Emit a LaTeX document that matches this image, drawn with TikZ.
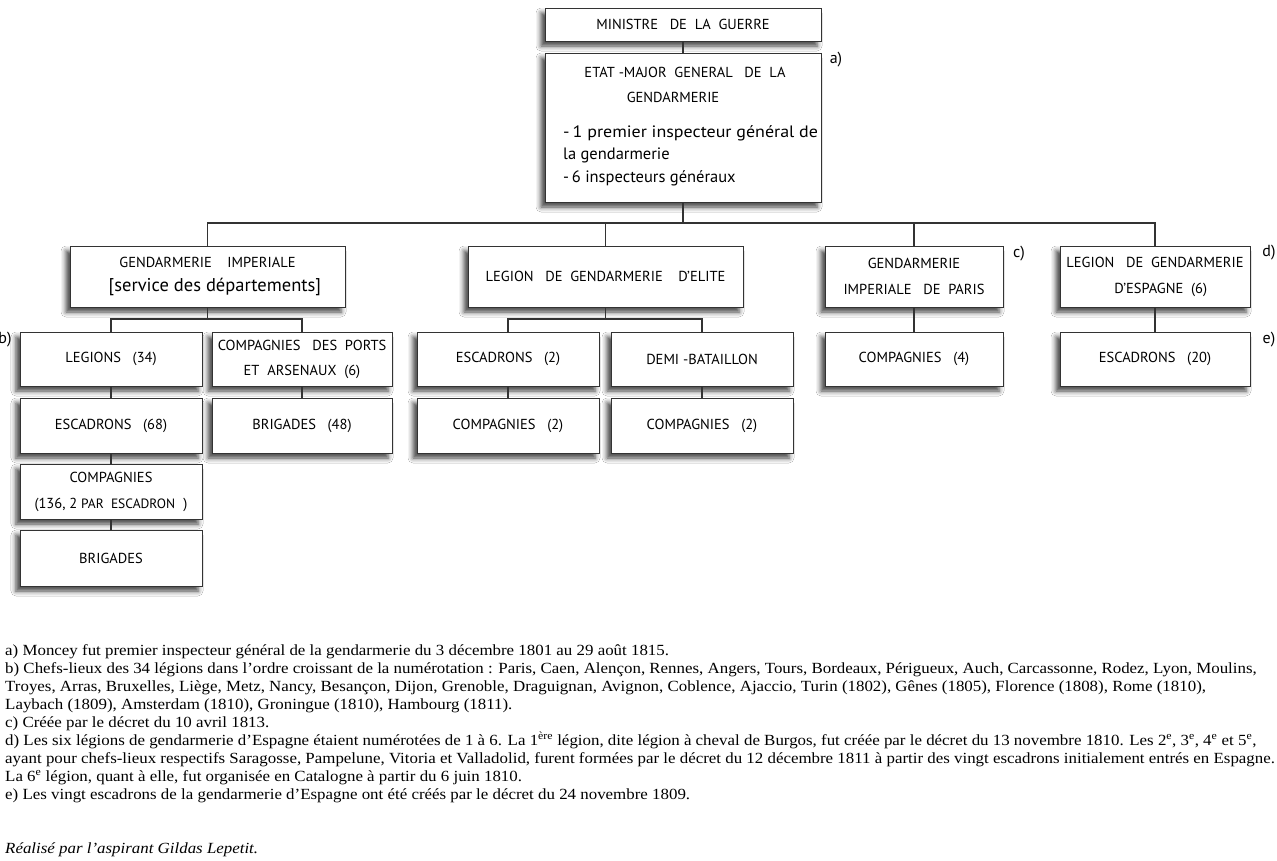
\documentclass[tikz,border=0pt]{standalone}
\usepackage{graphicx}
\usepackage{fontspec}
\setmainfont{Liberation Serif}
\newfontfamily\notefont[FakeStretch=1.09]{Liberation Serif}
\newfontfamily\boxfont{PT Sans}
\usetikzlibrary{shadows.blur}
\begin{document}
\begin{tikzpicture}[x=1pt,y=-1pt,
  orgbox/.style={draw=black!80, line width=0.8pt, fill=white,
    blur shadow={shadow xshift=-4pt, shadow yshift=-5pt, shadow blur radius=5pt, shadow opacity=75},
    inner sep=0pt, align=center, font=\boxfont\fontsize{14.5}{26}\selectfont},
  link/.style={draw=black!80, line width=1.1pt},
  boxtxt/.style={inner sep=0pt, font=\boxfont\fontsize{14.5}{26}\selectfont},
  bigtxt/.style={inner sep=0pt, anchor=west, font=\boxfont\fontsize{16.5}{20}\selectfont},
  fnmark/.style={inner sep=0pt, font=\boxfont\fontsize{16}{18}\selectfont},
  note/.style={anchor=base west, inner sep=0pt, font=\notefont\fontsize{15.5}{18}\selectfont}]
\useasboundingbox (0,0) rectangle (1277,860);
\fill[white] (0,0) rectangle (1277,860);

% boxes
\node[orgbox, minimum width=276, minimum height=33] (min) at (683,24.5) {MINISTRE\ \ \ DE\ \ LA\ \ GUERRE};
\node[orgbox, minimum width=276, minimum height=149] (etat) at (683,127.5) {};
\node[boxtxt] (etat1) at (685,72) {ETAT\ -MAJOR\ \ GENERAL\ \ \ DE\ \ LA};
\node[boxtxt] (etat2) at (673,97) {GENDARMERIE};
\node[bigtxt] (etat3) at (563,133) {\scalebox{1.09}[1]{-\,1 premier inspecteur général de}};
\node[bigtxt] (etat4) at (563,155) {la gendarmerie};
\node[bigtxt] (etat5) at (563,178) {-\,6 inspecteurs généraux};

\node[orgbox, minimum width=275, minimum height=61] (gi) at (207.5,276.5) {GENDARMERIE\ \ \ \ IMPERIALE\\[-2pt]{\fontsize{18.5}{20}\selectfont\ \ \ [service des départements]}};
\node[orgbox, minimum width=275, minimum height=61] (elite) at (605.5,276.5) {LEGION\ \ \ DE\ \ GENDARMERIE\ \ \ \ D’ELITE};
\node[orgbox, minimum width=178, minimum height=61] (paris) at (914,276.5) {GENDARMERIE\\IMPERIALE\ \ \ DE\ \ PARIS};
\node[orgbox, minimum width=190, minimum height=61] (esp) at (1155,276.5) {LEGION\ \ \ DE\ \ GENDARMERIE\\\ \ \ D’ESPAGNE\ \ (6)};

\node[orgbox, minimum width=182, minimum height=54] (legions) at (111,359) {LEGIONS\ \ \ (34)};
\node[orgbox, minimum width=180, minimum height=54] (ports) at (302,359) {COMPAGNIES\ \ \ DES\ \ PORTS\\[-1pt]ET\ \ ARSENAUX\ \ (6)};
\node[orgbox, minimum width=182, minimum height=55] (esc68) at (111,425.5) {ESCADRONS\ \ \ (68)};
\node[orgbox, minimum width=180, minimum height=55] (brig48) at (302,425.5) {BRIGADES\ \ \ (48)};
\node[orgbox, minimum width=182, minimum height=55] (comp136) at (111,491.5) {COMPAGNIES\\(136, 2 {\fontsize{13.5}{26}\selectfont PAR\ \ ESCADRON\ \ }\kern1pt)};
\node[orgbox, minimum width=182, minimum height=56] (brig) at (111,558) {BRIGADES};

\node[orgbox, minimum width=182, minimum height=54] (esc2) at (508,359) {ESCADRONS\ \ \ (2)};
\node[orgbox, minimum width=182, minimum height=54] (demi) at (702,359) {DEMI\ -BATAILLON};
\node[orgbox, minimum width=182, minimum height=55] (comp2a) at (508,425.5) {COMPAGNIES\ \ \ (2)};
\node[orgbox, minimum width=182, minimum height=55] (comp2b) at (702,425.5) {COMPAGNIES\ \ \ (2)};

\node[orgbox, minimum width=178, minimum height=54] (comp4) at (914,359) {COMPAGNIES\ \ \ (4)};
\node[orgbox, minimum width=190, minimum height=54] (esc20) at (1155,359) {ESCADRONS\ \ \ (20)};

% connectors
\coordinate (bus) at (683,223);
\coordinate (gisub) at (207.5,319);
\coordinate (elsub) at (605.5,319);
\draw[link] (min.south) -- (etat.north);
\draw[link] (etat.south) -- (bus);
\draw[link] (gi.north) |- (bus) -| (esp.north);
\draw[link] (elite.north) -- (elite.north |- bus);
\draw[link] (paris.north) -- (paris.north |- bus);
\draw[link] (gi.south) -- (gisub);
\draw[link] (legions.north) |- (gisub) -| (ports.north);
\draw[link] (legions.south) -- (esc68.north);
\draw[link] (esc68.south) -- (comp136.north);
\draw[link] (comp136.south) -- (brig.north);
\draw[link] (ports.south) -- (brig48.north);
\draw[link] (elite.south) -- (elsub);
\draw[link] (esc2.north) |- (elsub) -| (demi.north);
\draw[link] (esc2.south) -- (comp2a.north);
\draw[link] (demi.south) -- (comp2b.north);
\draw[link] (paris.south) -- (comp4.north);
\draw[link] (esp.south) -- (esc20.north);

% note marks
\node[fnmark] (ma) at (836,60) {a)};
\node[fnmark] (mb) at (5,340) {b)};
\node[fnmark] (mc) at (1019,254) {c)};
\node[fnmark] (md) at (1269,253) {d)};
\node[fnmark] (me) at (1269,340) {e)};

% footnotes
\node[note] (n1) at (5,655) {a) Moncey fut premier inspecteur général de la gendarmerie du 3 décembre 1801 au 29 août 1815.};
\node[note] (n2) at (5,673) {b) Chefs-lieux des 34 légions dans l’ordre croissant de la numérotation : Paris, Caen, Alençon, Rennes, Angers, Tours, Bordeaux, Périgueux, Auch, Carcassonne, Rodez, Lyon, Moulins,};
\node[note] (n3) at (5,691) {Troyes, Arras, Bruxelles, Liège, Metz, Nancy, Besançon, Dijon, Grenoble, Draguignan, Avignon, Coblence, Ajaccio, Turin (1802), Gênes (1805), Florence (1808), Rome (1810),};
\node[note] (n4) at (5,709) {Laybach (1809), Amsterdam (1810), Groningue (1810), Hambourg (1811).};
\node[note] (n5) at (5,727) {c) Créée par le décret du 10 avril 1813.};
\node[note] (n6) at (5,745) {d) Les six légions de gendarmerie d’Espagne étaient numérotées de 1 à 6. La 1\textsuperscript{ère} légion, dite légion à cheval de Burgos, fut créée par le décret du 13 novembre 1810. Les 2\textsuperscript{e}, 3\textsuperscript{e}, 4\textsuperscript{e} et 5\textsuperscript{e},};
\node[note] (n7) at (5,763) {ayant pour chefs-lieux respectifs Saragosse, Pampelune, Vitoria et Valladolid, furent formées par le décret du 12 décembre 1811 à partir des vingt escadrons initialement entrés en Espagne.};
\node[note] (n8) at (5,781) {La 6\textsuperscript{e} légion, quant à elle, fut organisée en Catalogne à partir du 6 juin 1810.};
\node[note] (n9) at (5,799) {e) Les vingt escadrons de la gendarmerie d’Espagne ont été créés par le décret du 24 novembre 1809.};
\node[note, font=\notefont\itshape\fontsize{15.5}{18}\selectfont] (n10) at (5,853) {Réalisé par l’aspirant Gildas Lepetit.};
\end{tikzpicture}
\end{document}
